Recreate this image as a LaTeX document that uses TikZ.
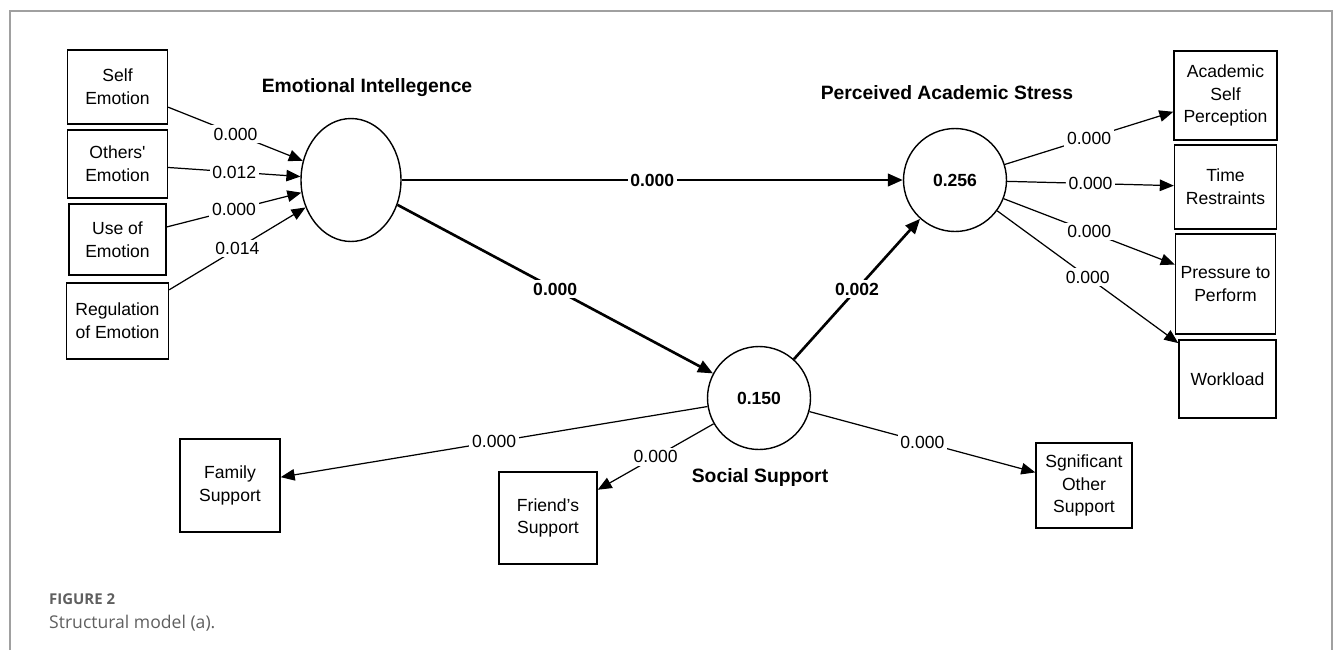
\documentclass[tikz,border=0pt]{standalone}
\usepackage{fontspec}
\setmainfont{Liberation Sans}
\newfontfamily\capfont{Open Sans}
\usetikzlibrary{positioning,shapes.geometric,arrows.meta}
\definecolor{framegray}{HTML}{A0A0A0}
\definecolor{capgray}{HTML}{5F5F5F}
\newcommand{\EIX}{351}
\newcommand{\EIY}{180}
\newcommand{\PASX}{955}
\newcommand{\PASY}{180}
\newcommand{\SSX}{759}
\newcommand{\SSY}{398}
\newcommand{\LEFTX}{117.5}
\newcommand{\RIGHTX}{1225.5}

\begin{document}
\begin{tikzpicture}[x=0.02cm,y=-0.02cm]
\tikzstyle{every node}=[font=\fontsize{10}{13}\selectfont]
\tikzstyle{ind}=[draw,line width=0.8,align=center,inner sep=0pt,minimum width=2cm]
\tikzstyle{latent}=[draw,circle,line width=0.8,inner sep=0pt,minimum size=2.06cm,font=\bfseries\fontsize{10}{13}\selectfont]
\tikzstyle{title}=[font=\bfseries\fontsize{11}{13}\selectfont]
\tikzstyle{load}=[-{Triangle[length=2.8mm,width=2.3mm]},line width=0.7]
\tikzstyle{path}=[-{Triangle[length=3mm,width=2.5mm]},line width=1.5]
\tikzstyle{val}=[midway,fill=white,inner sep=1.5pt]
\useasboundingbox (0,0) rectangle (1333,650);

% Frame
	\draw[framegray,line width=0.8] (10,650) -- (10,11) -- (1332,11) -- (1332,650);

% Latent variables
	\node[draw,ellipse,line width=0.8,inner sep=0pt,minimum width=2cm,minimum height=2.46cm] (ei) at ({\EIX},{\EIY}) {};
	\node[latent] (pas) at ({\PASX},{\PASY}) {0.256};
	\node[latent] (ss) at ({\SSX},{\SSY}) {0.150};

	\node[title] (eititle) at (367,88) {Emotional Intellegence};
	\node[title] (pastitle) at (947,93) {Perceived Academic Stress};
	\node[title] (sstitle) at (760,477) {Social Support};

% Emotional intelligence indicators
	\node[ind,minimum height=1.48cm] (selfem) at ({\LEFTX},87) {Self\\Emotion};
	\node[ind,minimum height=1.36cm] (othem) at ({\LEFTX},164) {Others\textquotesingle\\Emotion};
	\node[ind,minimum height=1.42cm,minimum width=1.94cm] (useem) at ({\LEFTX},239.5) {Use of\\Emotion};
	\node[ind,minimum height=1.52cm,minimum width=2.04cm] (regem) at ({\LEFTX},321) {Regulation\\of Emotion};

	\draw[load] (selfem) -- (ei) node[val] {0.000};
	\draw[load] (othem) -- (ei) node[val] {0.012};
	\draw[load] (useem) -- (ei) node[val] {0.000};
	\draw[load] (regem) -- (ei) node[val] {0.014};

% Academic stress indicators
	\node[ind,minimum height=1.78cm,minimum width=2.06cm] (acad) at ({\RIGHTX},95.5) {Academic\\Self\\Perception};
	\node[ind,minimum height=1.68cm,minimum width=2.04cm] (time) at ({\RIGHTX},187) {Time\\Restraints};
	\node[ind,minimum height=2cm] (press) at ({\RIGHTX},284) {Pressure to\\Perform};
	\node[ind,minimum height=1.56cm,minimum width=1.94cm] (work) at (1227.5,379) {Workload};

	\draw[load] (pas) -- (acad) node[val] {0.000};
	\draw[load] (pas) -- (time) node[val] {0.000};
	\draw[load] (pas) -- (press) node[val] {0.000};
	\draw[load] (pas) -- (work) node[val] {0.000};

% Social support indicators
	\node[ind,minimum height=1.86cm] (family) at (230,485.5) {Family\\Support};
	\node[ind,minimum height=1.84cm,minimum width=1.96cm] (friend) at (548,518) {Friend's\\Support};
	\node[ind,minimum height=1.7cm,minimum width=1.92cm] (signif) at (1084,485.5) {Sgnificant\\Other\\Support};

	\draw[load] (ss) -- (family) node[val] {0.000};
	\draw[load] (ss) -- (friend) node[val] {0.000};
	\draw[load] (ss) -- (signif) node[val] {0.000};

% Structural paths
	\draw[path] (ei) -- (pas) node[val,font=\bfseries\fontsize{10}{13}\selectfont] {0.000};
	\draw[path] (ei) -- (ss) node[val,font=\bfseries\fontsize{10}{13}\selectfont] {0.000};
	\draw[path] (ss) -- (pas) node[val,font=\bfseries\fontsize{10}{13}\selectfont] {0.002};

% Caption
	\node[anchor=base west,text=capgray,font=\capfont\bfseries\fontsize{8.5}{10}\selectfont] (figno) at (43,604) {FIGURE 2};
	\node[anchor=base west,text=capgray,font=\capfont\fontsize{10}{12}\selectfont] (figcap) at (43,628) {Structural model (a).};

\end{tikzpicture}
\end{document}
